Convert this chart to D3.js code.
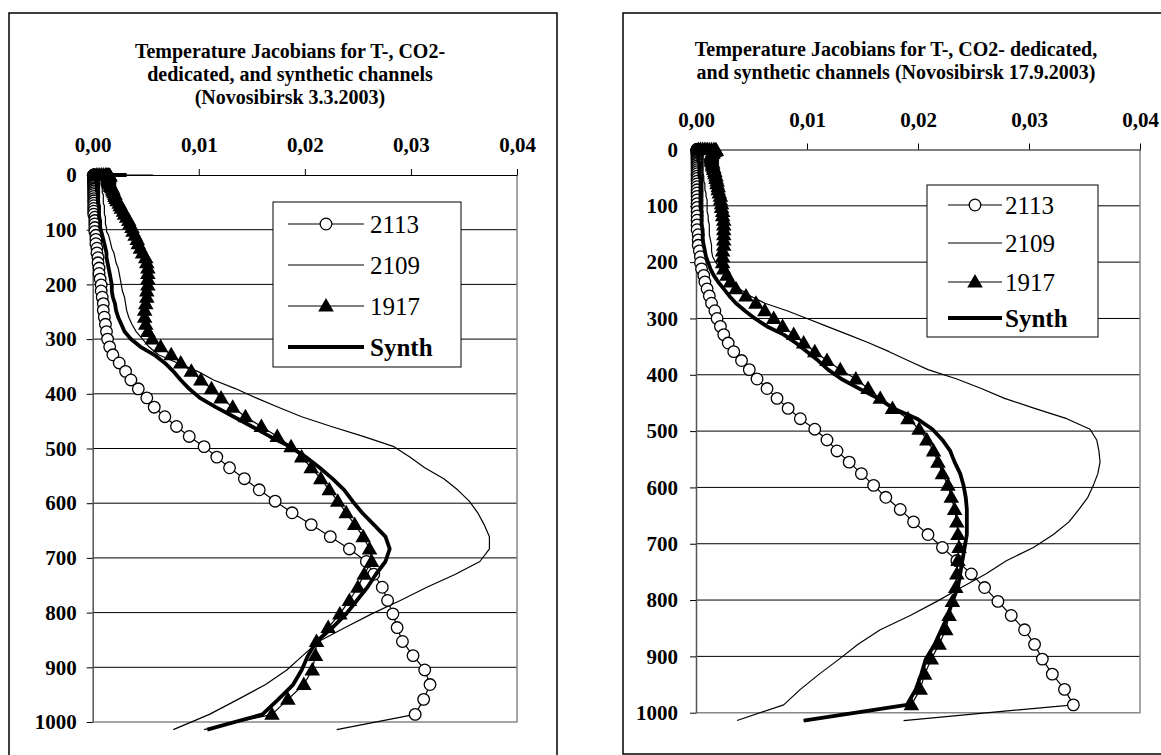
<!DOCTYPE html>
<html>
<head>
<meta charset="utf-8">
<script src="https://cdn.jsdelivr.net/npm/d3@7"></script>
<style>
  body { margin: 0; background: #fff; }
</style>
</head>
<body>
<div id="chart"></div>
<script>
// pressure levels (hPa) shared by every profile
const levels = [
  0.005, 0.0161, 0.0384, 0.0769, 0.137, 0.2244, 0.3454, 0.5064, 0.714, 0.9753,
  1.2972, 1.6872, 2.1526, 2.7009, 3.3398, 4.077, 4.9204, 5.8776, 6.9567, 8.1655, 9.5119,
  11.0038, 12.6492, 14.4559, 16.4318, 18.5847, 20.9224, 23.4526, 26.1829, 29.121, 32.2744, 35.6505,
  39.2566, 43.1001, 47.1882, 51.5278, 56.126, 60.9895, 66.1253, 71.5398, 77.2396, 83.231, 89.5204, 96.1138,
  103.0172, 110.2366, 117.7775, 125.6456, 133.8462, 142.3848, 151.2664, 160.4959, 170.0784, 180.0183,
  190.3203, 200.9887, 212.0277, 223.4415, 235.2338, 247.4085, 259.9691, 272.9191, 286.2617, 300,
  314.1369, 328.6753, 343.6176, 358.9665, 374.7241, 390.8926, 407.4738, 424.4698, 441.8819, 459.7118,
  477.9607, 496.6298, 515.72, 535.2322, 555.1669, 575.5248, 596.3062, 617.5112, 639.1398, 661.192,
  683.6673, 706.5654, 729.8857, 753.6275, 777.7897, 802.3714, 827.3713, 852.788, 878.6201, 904.8659,
  931.5236, 958.5911, 986.0666, 1013.9476
];

const seriesNames = ["2113", "2109", "1917", "Synth"];
const xTicks = [0, 0.01, 0.02, 0.03, 0.04];
const yTicks = [0, 100, 200, 300, 400, 500, 600, 700, 800, 900, 1000];

// Novosibirsk 3.3.2003
const left2113 = [
  0.0002, 0.0002, 0.0001, 0.0001, 0.0001, 0.0001, 0.0001, 0.0001, 0.0001, 0.0001,
  0.0001, 0.0001, 0.0001, 0.0001, 0.0001, 0.0001, 0.0001, 0.0001, 0.0001, 0.0001, 0.0001,
  0.0001, 0.0001, 0.0001, 0.0001, 0.0001, 0.0001, 0.0001, 0.0001, 0.0001, 0.0001, 0.0001,
  0.0001, 0.0001, 0.0001, 0.0001, 0.0001, 0.0001, 0.0001, 0.0001, 0.0002, 0.0002, 0.0002, 0.0002,
  0.0002, 0.0003, 0.0003, 0.0003, 0.0004, 0.0004, 0.0005, 0.0005, 0.0006, 0.0006,
  0.0007, 0.0008, 0.0008, 0.0009, 0.001, 0.001, 0.0011, 0.0012, 0.0013, 0.0014,
  0.0016, 0.0019, 0.0025, 0.0031, 0.0036, 0.0043, 0.0051, 0.0058, 0.0068, 0.0079,
  0.0091, 0.0105, 0.0117, 0.0129, 0.0143, 0.0157, 0.0172, 0.0188, 0.0206, 0.0224,
  0.0242, 0.0258, 0.0265, 0.0273, 0.0278, 0.0283, 0.0287, 0.0292, 0.0302, 0.0313,
  0.0318, 0.0312, 0.0304, 0.023
];
const left2109 = [
  0.0057, 0.0012, 0.0006, 0.0005, 0.0005, 0.0005, 0.0005, 0.0005, 0.0005, 0.0005,
  0.0005, 0.0005, 0.0006, 0.0006, 0.0006, 0.0006, 0.0007, 0.0007, 0.0007, 0.0007, 0.0008,
  0.0008, 0.0008, 0.0008, 0.0008, 0.0008, 0.0009, 0.0009, 0.0009, 0.0009, 0.0009, 0.001,
  0.001, 0.001, 0.001, 0.001, 0.0011, 0.0011, 0.0011, 0.0011, 0.0012, 0.0012, 0.0012, 0.0013,
  0.0013, 0.0015, 0.0016, 0.0017, 0.0018, 0.002, 0.0021, 0.0022, 0.0024, 0.0025,
  0.0026, 0.0027, 0.0028, 0.003, 0.0031, 0.0032, 0.0034, 0.0037, 0.0041, 0.0047,
  0.0053, 0.0062, 0.008, 0.0099, 0.0114, 0.0135, 0.0154, 0.0175, 0.0197, 0.0225,
  0.0255, 0.0284, 0.0299, 0.0313, 0.0331, 0.0344, 0.0355, 0.0363, 0.0369, 0.0374,
  0.0374, 0.0365, 0.0342, 0.0315, 0.029, 0.0263, 0.0238, 0.0213, 0.0198, 0.0183,
  0.0163, 0.0137, 0.011, 0.0076
];
const left1917 = [
  0.0004, 0.0006, 0.0008, 0.001, 0.0012, 0.0013, 0.0014, 0.0015, 0.0015, 0.0016,
  0.0016, 0.0016, 0.0016, 0.0015, 0.0015, 0.0015, 0.0015, 0.0015, 0.0015, 0.0015, 0.0015,
  0.0015, 0.0015, 0.0016, 0.0016, 0.0017, 0.0017, 0.0018, 0.0019, 0.0019, 0.002, 0.0021,
  0.0021, 0.0022, 0.0023, 0.0025, 0.0026, 0.0027, 0.0029, 0.003, 0.0032, 0.0034, 0.0035, 0.0037,
  0.0038, 0.004, 0.0042, 0.0043, 0.0045, 0.0047, 0.005, 0.0051, 0.0052, 0.0052,
  0.0052, 0.0052, 0.0051, 0.0051, 0.005, 0.0049, 0.0049, 0.005, 0.0052, 0.0056,
  0.0064, 0.0074, 0.0083, 0.0093, 0.0102, 0.0112, 0.0121, 0.0132, 0.0144, 0.0159,
  0.0174, 0.0187, 0.0197, 0.0206, 0.0215, 0.0223, 0.0231, 0.0239, 0.0247, 0.0255,
  0.0261, 0.0263, 0.0256, 0.025, 0.0242, 0.0233, 0.0222, 0.0211, 0.021, 0.0207,
  0.0199, 0.0184, 0.0169, 0.0105
];
const leftSynth = [
  0.0032, 0.0008, 0.0004, 0.0003, 0.0003, 0.0003, 0.0003, 0.0003, 0.0003, 0.0003,
  0.0003, 0.0003, 0.0003, 0.0003, 0.0003, 0.0003, 0.0003, 0.0003, 0.0003, 0.0003, 0.0003,
  0.0003, 0.0003, 0.0004, 0.0004, 0.0004, 0.0004, 0.0004, 0.0004, 0.0004, 0.0005, 0.0005,
  0.0005, 0.0005, 0.0005, 0.0005, 0.0006, 0.0006, 0.0006, 0.0006, 0.0006, 0.0007, 0.0007, 0.0007,
  0.0008, 0.0009, 0.001, 0.0011, 0.0012, 0.0013, 0.0013, 0.0014, 0.0015, 0.0016,
  0.0017, 0.0018, 0.0018, 0.0019, 0.0021, 0.0022, 0.0024, 0.0027, 0.003, 0.0036,
  0.0045, 0.0058, 0.0068, 0.0076, 0.0083, 0.0091, 0.0101, 0.0116, 0.0133, 0.015,
  0.0167, 0.0186, 0.0201, 0.0214, 0.0226, 0.0237, 0.0245, 0.0254, 0.0265, 0.0276,
  0.028, 0.0276, 0.0267, 0.0259, 0.0249, 0.0239, 0.0226, 0.0211, 0.0203, 0.0197,
  0.0189, 0.0175, 0.016, 0.0108
];

// Novosibirsk 17.9.2003
const right2113 = [
  0.0001, 0.0001, 0.0001, 0.0001, 0.0001, 0.0001, 0.0001, 0.0001, 0.0001, 0.0001,
  0.0001, 0.0001, 0.0001, 0.0001, 0.0001, 0.0001, 0.0001, 0.0001, 0.0001, 0.0001, 0.0001,
  0.0001, 0.0001, 0.0001, 0.0001, 0.0001, 0.0001, 0.0001, 0.0001, 0.0001, 0.0001, 0.0001,
  0.0001, 0.0001, 0.0001, 0.0001, 0.0001, 0.0001, 0.0001, 0.0001, 0.0001, 0.0001, 0.0001, 0.0001,
  0.0001, 0.0001, 0.0001, 0.0001, 0.0001, 0.0001, 0.0002, 0.0002, 0.0002, 0.0003,
  0.0004, 0.0004, 0.0005, 0.0007, 0.0008, 0.001, 0.0012, 0.0014, 0.0017, 0.0019,
  0.0022, 0.0025, 0.0029, 0.0034, 0.0041, 0.0048, 0.0055, 0.0064, 0.0073, 0.0083,
  0.0094, 0.0107, 0.0118, 0.0127, 0.0138, 0.0149, 0.016, 0.0171, 0.0184, 0.0196,
  0.0209, 0.0222, 0.0235, 0.0248, 0.026, 0.0272, 0.0284, 0.0296, 0.0305, 0.0312,
  0.0321, 0.0332, 0.034, 0.0187
];
const right2109 = [
  0.0003, 0.0003, 0.0003, 0.0003, 0.0003, 0.0003, 0.0003, 0.0003, 0.0003, 0.0003,
  0.0003, 0.0003, 0.0003, 0.0003, 0.0003, 0.0004, 0.0004, 0.0004, 0.0004, 0.0004, 0.0004,
  0.0004, 0.0004, 0.0004, 0.0004, 0.0004, 0.0005, 0.0005, 0.0005, 0.0005, 0.0006, 0.0006,
  0.0006, 0.0006, 0.0007, 0.0007, 0.0007, 0.0008, 0.0008, 0.0008, 0.0009, 0.0009, 0.001, 0.001,
  0.001, 0.001, 0.0011, 0.0011, 0.0012, 0.0012, 0.0012, 0.0013, 0.0014, 0.0014,
  0.0015, 0.0018, 0.0022, 0.0027, 0.0032, 0.0039, 0.0049, 0.0062, 0.0082, 0.01,
  0.0118, 0.0137, 0.0156, 0.0174, 0.0191, 0.0209, 0.0235, 0.0257, 0.0278, 0.0305,
  0.0334, 0.0355, 0.0361, 0.0363, 0.0364, 0.0362, 0.0358, 0.0353, 0.0345, 0.0336,
  0.0322, 0.0304, 0.028, 0.0261, 0.0239, 0.0217, 0.0193, 0.0166, 0.0146, 0.0129,
  0.0111, 0.0094, 0.0079, 0.0037
];
const right1917 = [
  0.0002, 0.0004, 0.0006, 0.0008, 0.001, 0.0012, 0.0014, 0.0016, 0.0017, 0.0018,
  0.0018, 0.0018, 0.0017, 0.0017, 0.0016, 0.0016, 0.0015, 0.0015, 0.0015, 0.0014, 0.0014,
  0.0014, 0.0014, 0.0014, 0.0014, 0.0014, 0.0014, 0.0015, 0.0015, 0.0015, 0.0016, 0.0016,
  0.0017, 0.0017, 0.0018, 0.0018, 0.0019, 0.0019, 0.002, 0.002, 0.0021, 0.0022, 0.0022, 0.0023,
  0.0023, 0.0024, 0.0024, 0.0025, 0.0025, 0.0025, 0.0025, 0.0025, 0.0025, 0.0024,
  0.0024, 0.0024, 0.0025, 0.0028, 0.0031, 0.0036, 0.0045, 0.0054, 0.0062, 0.007,
  0.0078, 0.0088, 0.0097, 0.0107, 0.0118, 0.013, 0.0144, 0.0155, 0.0166, 0.0177,
  0.0191, 0.0201, 0.0208, 0.0214, 0.0218, 0.0222, 0.0227, 0.023, 0.0233, 0.0235,
  0.0236, 0.0237, 0.0236, 0.0235, 0.0234, 0.0231, 0.0228, 0.0225, 0.0219, 0.0212,
  0.0206, 0.0202, 0.0194, 0.0097
];
const rightSynth = [
  0.0001, 0.0001, 0.0001, 0.0001, 0.0001, 0.0001, 0.0001, 0.0001, 0.0001, 0.0001,
  0.0001, 0.0001, 0.0001, 0.0001, 0.0001, 0.0002, 0.0002, 0.0002, 0.0002, 0.0002, 0.0002,
  0.0002, 0.0002, 0.0002, 0.0002, 0.0002, 0.0002, 0.0003, 0.0003, 0.0003, 0.0003, 0.0003,
  0.0003, 0.0003, 0.0003, 0.0004, 0.0004, 0.0004, 0.0004, 0.0004, 0.0004, 0.0004, 0.0004, 0.0004,
  0.0004, 0.0005, 0.0005, 0.0005, 0.0005, 0.0006, 0.0006, 0.0006, 0.0007, 0.0008,
  0.0009, 0.0011, 0.0013, 0.0016, 0.002, 0.0025, 0.003, 0.0036, 0.0044, 0.0053,
  0.0064, 0.0079, 0.009, 0.01, 0.011, 0.0119, 0.0131, 0.0147, 0.0164, 0.0178,
  0.0199, 0.0213, 0.0222, 0.0229, 0.0233, 0.0238, 0.0241, 0.0243, 0.0244, 0.0244,
  0.0244, 0.0242, 0.024, 0.0238, 0.0236, 0.0231, 0.0227, 0.0221, 0.0215, 0.0207,
  0.0203, 0.0198, 0.019, 0.0097
];

const width = 1161, height = 755;
const serif = "'Liberation Serif', 'Times New Roman', serif";

const svg = d3.select("#chart")
  .append("svg")
    .attr("width", width)
    .attr("height", height)
    .style("font-family", serif);

const fmtX = d => d3.format(".2f")(d).replace(".", ",");
const fmtY = d3.format("d");

function drawChart(cfg) {
  const g = svg.append("g");

  // outer frame
  g.append("rect")
    .attr("x", cfg.frame[0]).attr("y", cfg.frame[1])
    .attr("width", cfg.frame[2]).attr("height", cfg.frame[3])
    .attr("fill", "none").attr("stroke", "#000").attr("stroke-width", 1.5);

  // title
  g.selectAll(".title")
    .data(cfg.title)
    .join("text")
      .attr("x", cfg.titleX)
      .attr("y", (d, i) => cfg.titleY + i * 23)
      .attr("text-anchor", "middle")
      .style("font-family", serif)
      .style("font-size", "20px")
      .style("font-weight", "bold")
      .text(d => d);

  const x = d3.scaleLinear().domain([0, 0.04]).range([cfg.left, cfg.right]);
  const y = d3.scaleLinear().domain([0, 1000]).range([cfg.top, cfg.bottom]);

  // horizontal gridlines
  g.selectAll(".grid")
    .data(yTicks.slice(1, -1))
    .join("line")
      .attr("x1", cfg.left).attr("x2", cfg.right)
      .attr("y1", d => y(d)).attr("y2", d => y(d))
      .attr("stroke", "#000").attr("stroke-width", 1);

  // plot border right / bottom
  g.append("path")
    .attr("d", `M${cfg.right},${cfg.top}V${cfg.bottom}H${cfg.left}`)
    .attr("fill", "none").attr("stroke", "#888").attr("stroke-width", 1.5);

  const xAxis = g.append("g")
    .attr("transform", `translate(0,${cfg.top})`)
    .call(d3.axisTop(x).tickValues(xTicks).tickFormat(fmtX).tickSize(6).tickSizeOuter(0).tickPadding(17));
  xAxis.selectAll("text")
    .style("font-family", serif).style("font-size", "21px").style("font-weight", "bold")
    .attr("fill", "#000");

  const yAxis = g.append("g")
    .attr("transform", `translate(${cfg.left},0)`)
    .call(d3.axisLeft(y).tickValues(yTicks).tickFormat(fmtY).tickSize(6).tickSizeOuter(0).tickPadding(cfg.yPad));
  yAxis.select(".domain").attr("stroke", "#555").attr("stroke-width", 1.5);
  yAxis.selectAll("text")
    .style("font-family", serif).style("font-size", "21px").style("font-weight", "bold")
    .attr("fill", "#000");

  const line = d3.line().x(d => x(d.v)).y(d => y(d.p));

  const series = seriesNames.map((name, i) => ({
    name: name,
    values: levels.map((p, j) => ({ p: p, v: cfg.values[i][j] }))
  }));

  // thin lines first
  g.selectAll(".series")
    .data(series.slice(0, 3))
    .join("path")
      .attr("fill", "none")
      .attr("stroke", "#000")
      .attr("stroke-linejoin", "round")
      .attr("stroke-width", 1.2)
      .attr("d", d => line(d.values));

  // markers (only inside the plot)
  const tri = d3.symbol().type(d3.symbolTriangle).size(105);
  g.selectAll(".circ")
    .data(series[0].values.filter(d => d.p <= 1000))
    .join("circle")
      .attr("cx", d => x(d.v)).attr("cy", d => y(d.p)).attr("r", 5.8)
      .attr("fill", "#fff").attr("stroke", "#000").attr("stroke-width", 1.3);
  g.selectAll(".tri")
    .data(series[2].values.filter(d => d.p <= 1000))
    .join("path")
      .attr("transform", d => `translate(${x(d.v)},${y(d.p) + 1})`)
      .attr("d", tri)
      .attr("fill", "#000");

  // synth on top
  g.append("path")
    .attr("fill", "none").attr("stroke", "#000").attr("stroke-width", 3.8)
    .attr("stroke-linejoin", "round")
    .attr("d", line(series[3].values));

  // legend
  const L = cfg.legend;
  g.append("rect")
    .attr("x", L.x).attr("y", L.y).attr("width", L.w).attr("height", L.h)
    .attr("fill", "#fff").attr("stroke", "#000").attr("stroke-width", 1);
  const rows = g.selectAll(".leg")
    .data(seriesNames)
    .join("g")
      .attr("transform", (d, i) => `translate(0,${L.rows[i]})`);
  rows.append("line")
    .attr("x1", L.s0).attr("x2", L.s1)
    .attr("stroke", "#000")
    .attr("stroke-width", d => d === "Synth" ? 4 : 1.2);
  rows.filter(d => d === "2113").append("circle")
    .attr("cx", (L.s0 + L.s1) / 2).attr("r", 5.8)
    .attr("fill", "#fff").attr("stroke", "#000").attr("stroke-width", 1.3);
  rows.filter(d => d === "1917").append("path")
    .attr("transform", `translate(${(L.s0 + L.s1) / 2},1)`)
    .attr("d", tri).attr("fill", "#000");
  rows.append("text")
    .attr("x", L.tx).attr("y", 9)
    .style("font-family", serif)
    .style("font-size", L.fs + "px")
    .style("font-weight", d => d === "Synth" ? "bold" : "normal")
    .text(d => d);
}

drawChart({
  frame: [9, 13, 548, 800],
  title: ["Temperature Jacobians for T-, CO2-", "dedicated, and synthetic channels", "(Novosibirsk 3.3.2003)"],
  titleX: 290, titleY: 58,
  left: 92.7, right: 517, top: 175, bottom: 722, yPad: 10,
  values: [left2113, left2109, left1917, leftSynth],
  legend: { x: 273, y: 202, w: 188, h: 165, rows: [224, 265, 306, 347], s0: 288, s1: 364, tx: 370, fs: 25 }
});

drawChart({
  frame: [623, 13, 600, 741],
  title: ["Temperature Jacobians for T-, CO2- dedicated,", "and synthetic channels (Novosibirsk 17.9.2003)"],
  titleX: 896, titleY: 56,
  left: 696, right: 1140, top: 149.5, bottom: 712.7, yPad: 12,
  values: [right2113, right2109, right1917, rightSynth],
  legend: { x: 927, y: 185, w: 171, h: 152, rows: [205, 243, 282, 318], s0: 948, s1: 1002, tx: 1005, fs: 25 }
});
</script>
</body>
</html>
